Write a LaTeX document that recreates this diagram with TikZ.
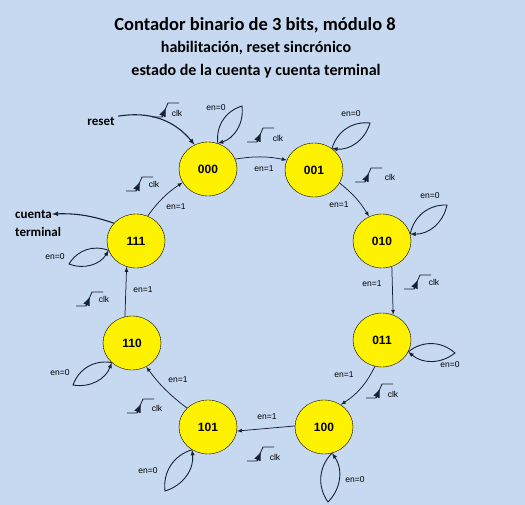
\documentclass[tikz,border=0pt]{standalone}
\usepackage{fontspec}
\setmainfont{Liberation Sans}
\newfontfamily\calibri{Carlito}
\usepackage{xcolor}
\usepackage{tikz}
\usetikzlibrary{arrows}
\usetikzlibrary{shapes.geometric}
\definecolor{fondo}{RGB}{198,217,241}
\definecolor{trazo}{RGB}{24,32,52}

\begin{document}
\begin{tikzpicture}[x=1pt,y=1pt]
	\fill[fondo] (0,0) rectangle (525,-505);
	\useasboundingbox (0,0) rectangle (525,-505);
	\tikzstyle{every node}=[font=\fontsize{8.5}{10}\selectfont];
	\tikzstyle{conn}=[trazo,line width=0.75pt,-latex];
	\tikzstyle{lazo}=[trazo,line width=0.9pt,-latex];
	\tikzstyle{grueso}=[trazo,line width=1.1pt,-latex];
	% titulos
	\draw (255,-25) node (titulo) {\calibri\bfseries\fontsize{18.5}{22}\selectfont Contador binario de 3 bits, m\'odulo 8}
		(256,-48) node (sub1) {\calibri\bfseries\fontsize{16}{19}\selectfont habilitaci\'on, reset sincr\'onico}
		(256,-71) node (sub2) {\calibri\bfseries\fontsize{16}{19}\selectfont estado de la cuenta y cuenta terminal};
	\draw (101,-121) node (reset) {\calibri\bfseries\fontsize{13}{15}\selectfont reset};
	\draw (15,-214) node[anchor=west,inner sep=0pt] (cuenta) {\calibri\bfseries\fontsize{13}{15}\selectfont cuenta}
		(15,-232) node[anchor=west,inner sep=0pt] (terminal) {\calibri\bfseries\fontsize{13}{15}\selectfont terminal};
	% etiquetas en=1 / en=0
	\draw (264,-169) node (e01) {en=1} (339,-205) node (e12) {en=1} (372,-284) node (e23) {en=1} (344,-375) node (e34) {en=1}
		(267,-417) node (e45) {en=1} (178,-380) node (e56) {en=1} (143,-290) node (e67) {en=1} (176,-207) node (e70) {en=1};
	\draw (216,-108) node (z0) {en=0} (351,-114) node (z1) {en=0} (430,-196) node (z2) {en=0} (450,-365) node (z3) {en=0}
		(355,-480) node (z4) {en=0} (148,-471) node (z5) {en=0} (60,-373) node (z6) {en=0} (55,-257) node (z7) {en=0};
	% flancos de reloj
	\foreach \x/\y/\cx/\cy [count=\i] in {152/117/177/113, 247/142/278/138, 355/182/390/177, 404/289/434/282, 366/398/393/394,
			247/461/275/457, 127/413/157/408, 76/306/104/299, 126/191/154/184} {
		\draw[trazo,line width=0.8pt] (\x,-\y) -- ++(10,0) -- ++(6,14) -- ++(11,0);
		\draw[trazo,-triangle 45,line width=0.8pt] (\x+10,-\y) -- ++(3.6,8.4);
		\node (k\i) at (\cx,-\cy) {clk};
	}
	% puntas de los lazos
	\coordinate (t000) at (242,-106);
	\coordinate (t001) at (370,-123);
	\coordinate (t010) at (447,-205);
	\coordinate (t011) at (455,-353);
	\coordinate (t100) at (328,-502);
	\coordinate (t101) at (165,-491);
	\coordinate (t110) at (73,-385);
	\coordinate (t111) at (69,-264);
	\tikzstyle{every node}=[draw=black,shape=ellipse,fill=yellow,minimum width=58pt,minimum height=54pt,inner sep=0pt,font=\bfseries\fontsize{12}{14}\selectfont];
	\node (s000) at (208,-169) {000};
	\node (s001) at (314,-170) {001};
	\node (s010) at (382,-241) {010};
	\node (s011) at (382,-340) {011};
	\node (s100) at (324,-427) {100};
	\node (s101) at (208,-427) {101};
	\node (s110) at (132,-343) {110};
	\node (s111) at (136,-241) {111};
	% transiciones
	\draw[conn] (s000.20) to[bend left=10] (s001.160);
	\draw[conn] (s001.-27) to[bend left=10] (s010.118);
	\draw[conn] (s010.-69) -- (s011.66);
	\draw[conn] (s011.-105) to[bend left=15] (s100.53);
	\draw[conn] (s100.178) -- (s101.-8);
	\draw[conn] (s101.138) to[bend left=8] (s110.-59);
	\draw[conn] (s110.105) -- (s111.-110);
	\draw[conn] (s111.65) to[bend left=10] (s000.208);
	% lazos en=0
	\draw[lazo] (s000.69) to[bend left=40] (t000) to[bend left=40] (s000.69);
	\draw[lazo] (s001.50) to[bend left=40] (t001) to[bend left=40] (s001.50);
	\draw[lazo] (s010.14) to[bend left=40] (t010) to[bend left=40] (s010.14);
	\draw[lazo] (s011.-24) to[bend left=40] (t011) to[bend left=40] (s011.-24);
	\draw[lazo] (s100.-73) to[bend right=40] (t100) to[bend right=40] (s100.-73);
	\draw[lazo] (s101.-125) to[bend right=40] (t101) to[bend right=40] (s101.-125);
	\draw[lazo] (s110.-136) to[bend right=40] (t110) to[bend right=40] (s110.-136);
	\draw[lazo] (s111.-161) to[bend right=40] (t111) to[bend right=40] (s111.-161);
	% reset y cuenta terminal
	\draw[grueso] (reset) to[bend left=30] (s000.119);
	\draw[grueso] (s111.141) to[bend right=10] (cuenta.east);
\end{tikzpicture}
\end{document}
